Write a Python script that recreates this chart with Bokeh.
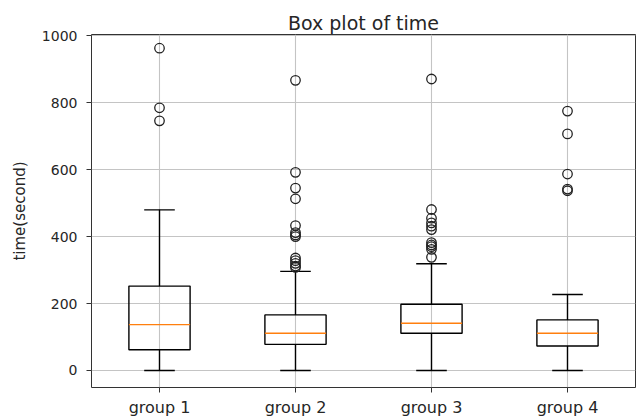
from bokeh.plotting import figure
from bokeh.models import FixedTicker, Range1d, ColumnDataSource
from bokeh.embed import file_html
from bokeh.resources import INLINE

groups = ["group 1", "group 2", "group 3", "group 4"]
q1 = [62, 78, 111, 73]
median = [137, 111, 141, 111]
q3 = [252, 166, 198, 151]
whisker_low = [0, 0, 0, 0]
whisker_high = [480, 296, 319, 227]
outliers = [
    [963, 785, 746],
    [867, 592, 545, 513, 433, 412, 405, 400, 336, 328, 320, 312, 308],
    [871, 481, 455, 441, 431, 421, 382, 375, 370, 362, 338],
    [775, 707, 587, 542, 537],
]
y_ticks = [0, 200, 400, 600, 800, 1000]

FONT = "DejaVu Sans"
TXT = "#262626"

pos = list(range(1, len(groups) + 1))
box_w = 0.45
cap_w = box_w / 2

p = figure(width=636, height=419, output_backend="svg", toolbar_location=None,
           x_range=Range1d(0.5, 4.5), y_range=Range1d(-51, 1004),
           title="Box plot of time")
p.min_border_left = 91
p.min_border_right = 1
p.min_border_top = 34
p.min_border_bottom = 30

p.title.align = "center"
p.title.text_font = FONT
p.title.text_font_size = "19px"
p.title.text_font_style = "normal"
p.title.text_color = TXT
p.title.standoff = 2

p.outline_line_color = "#333333"
p.outline_line_width = 1
p.background_fill_color = "white"
p.border_fill_color = "white"

for ax in (p.xaxis, p.yaxis):
    ax.axis_line_color = None
    ax.major_tick_line_color = "#333333"
    ax.major_tick_out = 5
    ax.major_tick_in = 0
    ax.minor_tick_line_color = None
    ax.major_label_text_font = FONT
    ax.major_label_text_color = TXT

p.xaxis.major_label_text_font_size = "16px"
p.yaxis.major_label_text_font_size = "14px"
p.xaxis.ticker = FixedTicker(ticks=pos)
p.xaxis.major_label_overrides = {i: g for i, g in zip(pos, groups)}
p.xaxis.major_label_standoff = 5
p.yaxis.ticker = FixedTicker(ticks=y_ticks)
p.yaxis.major_label_standoff = 9
p.yaxis.axis_label = "time(second)"
p.yaxis.axis_label_text_font = FONT
p.yaxis.axis_label_text_font_size = "15px"
p.yaxis.axis_label_text_font_style = "normal"
p.yaxis.axis_label_text_color = TXT
p.yaxis.axis_label_standoff = 10

p.xgrid.grid_line_color = "#c4c4c4"
p.ygrid.grid_line_color = "#c4c4c4"
p.xgrid.grid_line_width = 1.1
p.ygrid.grid_line_width = 1.1

src = ColumnDataSource(dict(
    x=pos,
    left=[x - box_w / 2 for x in pos],
    right=[x + box_w / 2 for x in pos],
    cl=[x - cap_w / 2 for x in pos],
    cr=[x + cap_w / 2 for x in pos],
    q1=q1, q3=q3, med=median, lo=whisker_low, hi=whisker_high,
))

lw = 1.4
p.segment(x0="x", y0="q3", x1="x", y1="hi", source=src, line_color="black", line_width=lw)
p.segment(x0="x", y0="q1", x1="x", y1="lo", source=src, line_color="black", line_width=lw)
p.segment(x0="cl", y0="hi", x1="cr", y1="hi", source=src, line_color="black", line_width=lw)
p.segment(x0="cl", y0="lo", x1="cr", y1="lo", source=src, line_color="black", line_width=lw)
p.quad(left="left", right="right", bottom="q1", top="q3", source=src,
       fill_color=None, line_color="black", line_width=lw)
p.segment(x0="left", y0="med", x1="right", y1="med", source=src,
          line_color="#ff7f0e", line_width=lw)

ox, oy = [], []
for x, vals in zip(pos, outliers):
    for v in vals:
        ox.append(x)
        oy.append(v)
p.scatter(ox, oy, marker="circle", size=9.5, fill_color=None,
          line_color="#222222", line_width=1.3)

open("out.html", "w").write(file_html(p, INLINE))
